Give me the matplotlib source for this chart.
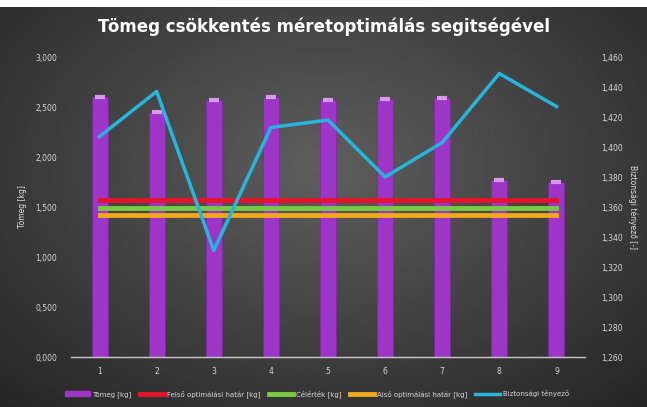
import numpy as np
import matplotlib.pyplot as plt
from matplotlib.ticker import FuncFormatter

categories = [1, 2, 3, 4, 5, 6, 7, 8, 9]
mass = [2600, 2450, 2570, 2600, 2570, 2580, 2590, 1770, 1750]
upper_limit = [1570] * 9
target = [1490] * 9
lower_limit = [1420] * 9
safety = [1.407, 1.437, 1.331, 1.413, 1.418, 1.380, 1.403, 1.449, 1.427]

labels = ['Tömeg [kg]', 'Felső optimálási határ [kg]', 'Célérték [kg]',
          'Alsó optimálási határ [kg]', 'Biztonsági tényező']

W, H = 647, 407
fig = plt.figure(figsize=(W / 100, H / 100), dpi=100, facecolor='white')

# dark gradient background below the white top strip
bg = fig.add_axes([0, 0, 1, 1 - 7 / H], zorder=-10)
yy, xx = np.mgrid[-1:1:200j, -1:1:300j]
grad = 0.37 - 0.17 * np.sqrt((xx * 0.9) ** 2 + ((yy + 0.2) * 0.8) ** 2)
bg.imshow(grad, cmap='gray', vmin=0, vmax=1, aspect='auto', extent=[0, 1, 0, 1])
bg.axis('off')

ax = fig.add_axes([71 / W, 1 - 357 / H, (585 - 71) / W, 300 / H])
ax.patch.set_alpha(0)
x = np.arange(len(categories))

ax.bar(x, mass, width=0.28, color='#9d35c6', edgecolor='#7a2a9c', linewidth=0.5, zorder=2)
ax.scatter(x, mass, marker='_', s=60, color='#d79be8', linewidths=3, zorder=3)
l1, = ax.plot(x, upper_limit, color='#e8132a', lw=3.5, zorder=4)
l2, = ax.plot(x, target, color='#7ac943', lw=3.5, zorder=4)
l3, = ax.plot(x, lower_limit, color='#f0a81c', lw=3.5, zorder=4)

ax.set_xlim(-0.5, len(categories) - 0.5)
ax.set_ylim(0, 3000)
ax.set_yticks(np.arange(0, 3001, 500))
ax.yaxis.set_major_formatter(FuncFormatter(lambda v, p: f'{v / 1000:.3f}'.replace('.', ',')))
ax.set_xticks(x)
ax.set_xticklabels([str(c) for c in categories])

ax2 = ax.twinx()
l4, = ax2.plot(x, safety, color='#26b5dc', lw=2.5, zorder=5)
ax2.set_ylim(1.26, 1.46)
ax2.set_yticks(np.arange(1.26, 1.4601, 0.02))
ax2.yaxis.set_major_formatter(FuncFormatter(lambda v, p: f'{v:.3f}'.replace('.', ',')))

for a in (ax, ax2):
    for s in a.spines.values():
        s.set_visible(False)
    a.tick_params(colors='#d8d8d8', labelsize=5.5, length=0)
ax.spines['bottom'].set_visible(True)
ax.spines['bottom'].set_color('#c8c8c8')
ax.spines['bottom'].set_linewidth(1)
ax.tick_params(axis='x', pad=7)
ax.tick_params(axis='y', pad=10)
ax2.tick_params(axis='y', pad=12)

ax.set_ylabel('Tömeg [kg]', color='#e0e0e0', fontsize=5.5, labelpad=6)
ax2.set_ylabel('Biztonsági tényező [-]', color='#e0e0e0', fontsize=5.5, rotation=270, labelpad=10)

fig.text(0.50, 1 - 27 / H, 'Tömeg csökkentés méretoptimálás segitségével', color='white',
         fontsize=12, fontweight='bold', ha='center', va='center', family='DejaVu Sans')

bar_handle = plt.Rectangle((0, 0), 1, 1, color='#9d35c6')
leg = fig.legend([bar_handle, l1, l2, l3, l4], labels, loc='center', ncol=5,
                 bbox_to_anchor=(0.49, 1 - 394 / H), frameon=False, fontsize=5,
                 labelcolor='#d8d8d8', handlelength=3.5, handletextpad=0.4, columnspacing=1.2)

fig.savefig('out.png', dpi=100, facecolor='white')
